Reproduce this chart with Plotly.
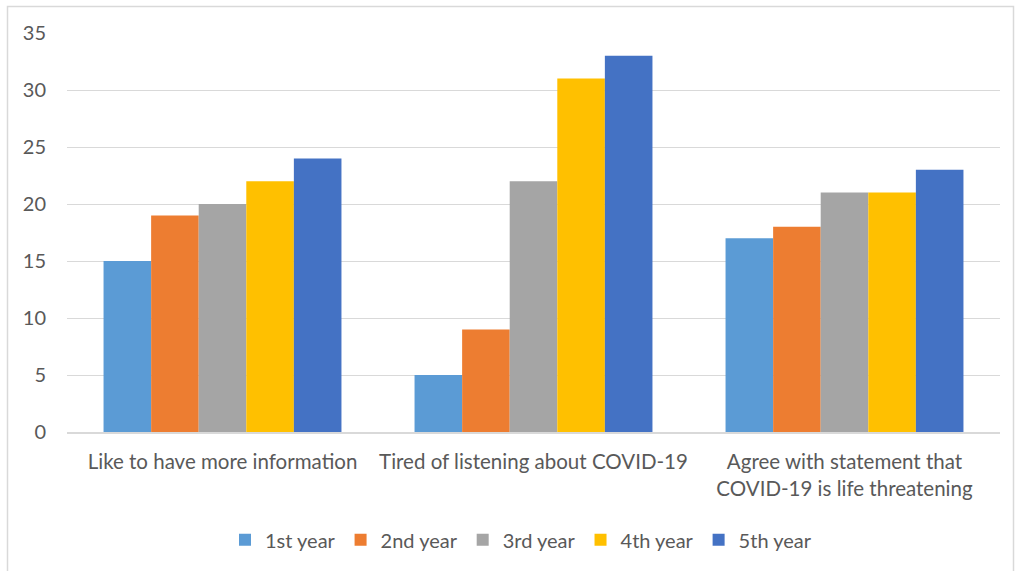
import plotly.graph_objects as go

categories = ["Like to have more information", "Tired of listening about COVID-19",
              "Agree with statement that<br>COVID-19 is life threatening"]
series_names = ["1st year", "2nd year", "3rd year", "4th year", "5th year"]
year1 = [15, 5, 17]
year2 = [19, 9, 18]
year3 = [20, 22, 21]
year4 = [22, 31, 21]
year5 = [24, 33, 23]
colors = ["#5B9BD5", "#ED7D31", "#A5A5A5", "#FFC000", "#4472C4"]

fig = go.Figure()
for name, vals, c in zip(series_names, [year1, year2, year3, year4, year5], colors):
    fig.add_trace(go.Bar(x=categories, y=vals, name=name, marker=dict(color=c, line=dict(width=0))))

font_family = "Lato, 'Open Sans', sans-serif"
fig.update_layout(
    width=1015, height=571,
    barmode="group", bargap=0.235, bargroupgap=0,
    paper_bgcolor="white", plot_bgcolor="white",
    margin=dict(l=67, r=15, t=33, b=139),
    font=dict(family=font_family, size=20, color="#595959"),
    showlegend=True,
    legend=dict(orientation="h", x=(521 - 67) / 933, xanchor="center", y=-0.27, yanchor="middle",
                font=dict(size=20, color="#595959"), itemwidth=30, tracegroupgap=0),
    xaxis=dict(showgrid=False, showline=True, linecolor="#D9D9D9", linewidth=1.5,
               tickfont=dict(size=20.5, color="#595959"), ticks="", ticklabelstandoff=11),
    yaxis=dict(range=[0, 35], dtick=5, showgrid=True, gridcolor="#D9D9D9", gridwidth=1.3,
               zeroline=False, showline=False, ticks="", ticklabelstandoff=20,
               tickfont=dict(size=20, color="#595959")),
    shapes=[dict(type="rect", xref="paper", yref="paper",
                 x0=(7.5 - 67) / 933, x1=(1013.5 - 67) / 933,
                 y0=(432 - 575) / 399, y1=(432 - 6.5) / 399,
                 line=dict(color="#D9D9D9", width=1.5), fillcolor="rgba(0,0,0,0)", layer="below")],
)

fig.write_html("out.html", config={"displayModeBar": False},
               post_script="document.body.style.margin='0';document.body.style.overflow='hidden';")
